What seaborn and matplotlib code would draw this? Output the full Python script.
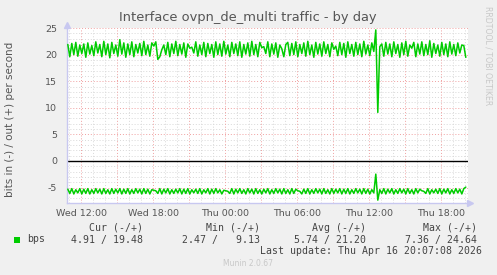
import matplotlib
matplotlib.use("Agg")
import matplotlib.pyplot as plt
import seaborn as sns
import numpy as np
import pandas as pd

# ---- data (10-minute samples, starting Wed 10:54) ----
start_hour = 10.9          # hours since Wed 00:00
step_hours = 1.0 / 6.0

bps_out = [
    21.9, 19.6, 22.1, 20.0, 22.3, 19.7, 21.8, 20.2, 22.0, 19.5,
    22.2, 20.1, 21.7, 19.8, 22.4, 20.3, 21.9, 19.6, 22.5, 20.0,
    22.0, 19.4, 22.3, 20.2, 21.8, 19.7, 22.8, 20.1, 22.2, 19.5,
    22.0, 20.0, 22.4, 19.6, 21.9, 20.3, 22.1, 19.8, 22.5, 20.0,
    21.8, 19.7, 22.2, 21.6, 22.4, 19.1, 19.6, 20.9, 21.8, 20.0,
    22.3, 19.6, 22.0, 20.2, 22.5, 19.8, 21.9, 20.1, 22.2, 19.5,
    22.0, 21.2, 21.4, 20.3, 22.4, 19.7, 21.8, 20.0, 22.3, 19.6,
    22.1, 20.2, 21.9, 19.5, 22.4, 20.0, 22.0, 19.7, 22.5, 20.1,
    21.8, 19.6, 22.3, 20.2, 22.0, 19.8, 22.4, 19.5, 21.9, 20.1,
    22.2, 19.7, 22.5, 20.0, 21.9, 19.6, 22.3, 21.3, 21.5, 20.2,
    22.4, 19.6, 22.0, 20.1, 22.2, 19.5, 21.8, 21.1, 19.6, 21.9,
    22.3, 19.8, 22.1, 20.0, 22.4, 19.6, 21.9, 20.2, 22.2, 19.7,
    22.5, 20.0, 21.8, 19.5, 22.3, 20.1, 22.0, 19.7, 22.4, 20.2,
    21.9, 19.6, 22.2, 21.0, 21.6, 19.8, 22.3, 20.0, 22.1, 19.5,
    22.4, 20.2, 21.9, 19.7, 22.3, 20.0, 22.0, 19.6, 22.5, 20.1,
    21.8, 19.8, 22.2, 20.6, 24.64, 9.13, 21.5, 22.0, 19.7, 22.3,
    20.1, 22.0, 19.6, 22.4, 20.2, 21.9, 19.5, 22.2, 20.0, 22.5,
    19.7, 21.8, 21.2, 22.3, 19.6, 22.0, 20.1, 22.4, 19.8, 21.9,
    20.0, 22.6, 19.5, 22.1, 20.2, 21.8, 19.7, 22.3, 20.0, 22.0,
    19.6, 22.4, 20.1, 21.9, 19.8, 22.2, 20.3, 21.8, 21.7, 19.48,
]

bps_in = [
    5.3, 6.1, 5.2, 6.2, 5.4, 6.0, 5.2, 6.2, 5.3, 6.1,
    5.2, 6.2, 5.4, 6.1, 5.2, 6.0, 5.3, 6.2, 5.2, 6.1,
    5.4, 6.2, 5.2, 6.1, 5.3, 6.0, 5.2, 6.2, 5.3, 6.1,
    5.2, 6.2, 5.4, 6.1, 5.2, 6.0, 5.3, 6.2, 5.2, 6.1,
    5.3, 6.2, 5.4, 5.5, 5.6, 6.1, 5.2, 6.2, 5.3, 6.0,
    5.2, 6.2, 5.4, 6.1, 5.3, 6.0, 5.2, 6.2, 5.3, 6.1,
    5.2, 6.2, 5.4, 6.0, 5.3, 6.1, 5.2, 6.2, 5.4, 6.0,
    5.2, 6.2, 5.3, 6.1, 5.2, 6.0, 5.4, 6.2, 5.5, 5.6,
    5.7, 6.1, 5.2, 6.2, 5.3, 6.0, 5.2, 6.1, 5.4, 6.2,
    5.2, 6.0, 5.3, 6.2, 5.2, 6.1, 5.4, 6.2, 5.3, 6.0,
    5.2, 6.2, 5.4, 6.1, 5.2, 6.0, 5.3, 6.2, 5.2, 6.1,
    5.4, 6.2, 5.2, 6.1, 5.3, 5.6, 5.7, 6.2, 5.3, 6.1,
    5.2, 6.2, 5.4, 6.1, 5.2, 6.0, 5.3, 6.2, 5.2, 6.1,
    5.4, 6.2, 5.2, 6.1, 5.3, 6.0, 5.2, 6.2, 5.3, 6.1,
    5.2, 6.2, 5.4, 6.1, 5.2, 6.0, 5.3, 6.2, 5.2, 6.1,
    5.3, 6.2, 5.4, 6.0, 2.47, 7.36, 5.4, 6.1, 5.2, 6.2,
    5.3, 6.0, 5.2, 6.2, 5.4, 6.1, 5.2, 6.0, 5.3, 6.2,
    5.2, 6.1, 5.4, 6.2, 5.2, 6.0, 5.3, 5.6, 5.7, 6.1,
    5.2, 6.2, 5.4, 6.0, 5.3, 6.1, 5.2, 6.2, 5.3, 6.0,
    5.2, 6.2, 5.4, 6.1, 5.2, 6.0, 5.3, 6.2, 5.2, 4.91,
]

tick_hours = [12, 18, 24, 30, 36, 42]
tick_labels = ["Wed 12:00", "Wed 18:00", "Thu 00:00", "Thu 06:00", "Thu 12:00", "Thu 18:00"]
y_ticks = [-5, 0, 5, 10, 15, 20, 25]

title = "Interface ovpn_de_multi traffic - by day"
y_label = "bits in (-) / out (+) per second"
legend_name = "bps"
stat_headers = ["Cur (-/+)", "Min (-/+)", "Avg (-/+)", "Max (-/+)"]
stat_values = ["4.91 / 19.48", "2.47 /   9.13", "5.74 / 21.20", "7.36 / 24.64"]
last_update = "Last update: Thu Apr 16 20:07:08 2026"
footer = "Munin 2.0.67"
side_text = "RRDTOOL / TOBI OETIKER"

# ---- build frame ----
n = len(bps_out)
hours = start_hour + np.arange(n) * step_hours
df = pd.DataFrame({"hour": hours, "out": bps_out, "in_neg": [-v for v in bps_in]})

sns.set_theme(style="white")
plt.rcParams["font.family"] = ["DejaVu Sans"]
plt.rcParams["axes.unicode_minus"] = False

W, H = 497, 275
fig = plt.figure(figsize=(W / 100, H / 100), dpi=100)
fig.patch.set_facecolor("#F0F0F0")

ax_l, ax_r, ax_t, ax_b = 67, 468, 28, 203
ax = fig.add_axes([ax_l / W, 1 - ax_b / H, (ax_r - ax_l) / W, (ax_b - ax_t) / H])
ax.set_facecolor("white")

xmin, xmax = 10.833, 44.25
ymin, ymax = -7.9, 25.0
ax.set_xlim(xmin, xmax)
ax.set_ylim(ymin, ymax)

# grid
for h in np.arange(11, 45, 1):
    if h % 3 != 0:
        ax.axvline(h, color="#D8D8D8", lw=0.7, ls=(0, (1, 2)), zorder=0.5)
for h in np.arange(12, 45, 3):
    ax.axvline(h, color="#F0A0A0", lw=0.7, ls=(0, (1, 2)), zorder=0.6)
for v in np.arange(-7, 26, 1):
    if v % 5 != 0:
        ax.axhline(v, color="#D8D8D8", lw=0.7, ls=(0, (1, 2)), zorder=0.5)
for v in y_ticks:
    if v != 0:
        ax.axhline(v, color="#F0A0A0", lw=0.7, ls=(0, (1, 2)), zorder=0.6)
ax.axhline(0, color="black", lw=1.0, zorder=1)

green = "#00CC00"
sns.lineplot(data=df, x="hour", y="out", ax=ax, color=green, lw=1.1, estimator=None, zorder=3)
sns.lineplot(data=df, x="hour", y="in_neg", ax=ax, color=green, lw=1.1, estimator=None, zorder=3)

ax.set_xticks(tick_hours)
ax.set_xticklabels(tick_labels)
ax.set_yticks(y_ticks)
ax.set_yticklabels([str(v) for v in y_ticks])
ax.tick_params(axis="both", length=0, labelsize=6.8, colors="#555555")
ax.tick_params(axis="x", pad=4)
ax.tick_params(axis="y", pad=7)
ax.set_xlabel("")
ax.set_ylabel("")

for s in ["top", "right"]:
    ax.spines[s].set_visible(False)
for s in ["left", "bottom"]:
    ax.spines[s].set_color("#C8C8F0")
    ax.spines[s].set_linewidth(1.0)
ax.plot([0], [1.02], marker="^", color="#C8C8F0", ms=4, transform=ax.transAxes, clip_on=False)
ax.plot([1.005], [0], marker=">", color="#C8C8F0", ms=4, transform=ax.transAxes, clip_on=False)

# texts
fig.text(248 / W, 1 - 18 / H, title, ha="center", va="center", fontsize=9.4, color="#555555")
fig.text(10 / W, 1 - 119 / H, y_label, ha="center", va="center", rotation=90, fontsize=7.5, color="#555555")
fig.text(488 / W, 1 - 56 / H, side_text, ha="center", va="center", rotation=270, fontsize=5.6, color="#C8C8C8")

mono = "DejaVu Sans Mono"
fs = 7.1
header_right = [143, 260, 366, 477]
for hx, htxt in zip(header_right, stat_headers):
    fig.text(hx / W, 1 - 228 / H, htxt, ha="right", va="center", family=mono, fontsize=fs, color="#444444")
for hx, vtxt in zip(header_right, stat_values):
    fig.text(hx / W, 1 - 239.5 / H, vtxt, ha="right", va="center", family=mono, fontsize=fs, color="#444444")
fig.patches.append(plt.Rectangle((14 / W, 1 - 242.5 / H), 6 / W, 6 / H, transform=fig.transFigure,
                                 facecolor=green, edgecolor="none"))
fig.text(27 / W, 1 - 239.5 / H, legend_name, ha="left", va="center", family=mono, fontsize=fs, color="#444444")
fig.text(482 / W, 1 - 251 / H, last_update, ha="right", va="center", family=mono, fontsize=fs, color="#444444")
fig.text(248 / W, 1 - 264 / H, footer, ha="center", va="center", fontsize=5.5, color="#C8C8C8")

fig.savefig("out.png", dpi=100, facecolor=fig.get_facecolor())
